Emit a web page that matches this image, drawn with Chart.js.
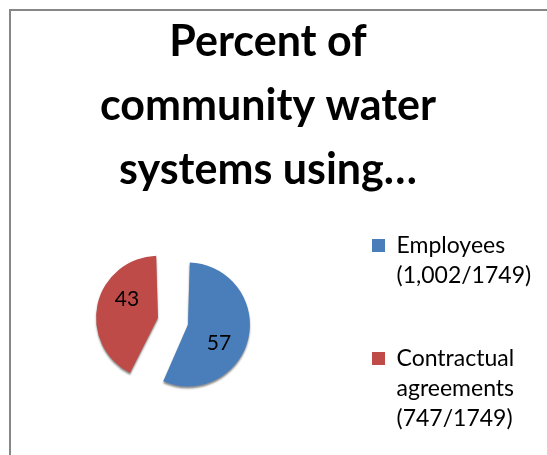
<!DOCTYPE html>
<html>
<head>
<meta charset="utf-8">
<script src="https://cdn.jsdelivr.net/npm/chart.js@4"></script>
<style>
    html, body { margin: 0; padding: 0; background: #fff; }
    #wrap { position: relative; width: 547px; height: 455px; overflow: hidden; }
    #frame {
        position: absolute; left: 9px; top: 9px; width: 600px; height: 600px;
        border-left: 2px solid #878787; border-top: 2px solid #878787;
        pointer-events: none;
    }
</style>
</head>
<body>
<div id="wrap">
    <canvas id="pieChart" width="547" height="455"></canvas>
    <div id="frame"></div>
</div>
<script>
const titleLines = ['Percent of', 'community water', 'systems using…'];
const categories = ['Employees', 'Contractual agreements'];
const legendLines = [
    ['Employees', '(1,002/1749)'],
    ['Contractual', 'agreements', '(747/1749)'],
];
const percents = [57, 43];
const colors = ['#4a7ebb', '#be4b48'];

// a soft shadow for the 3D look, and the value labels inside the slices
const sliceLabels = {
    id: 'sliceLabels',
    beforeDatasetsDraw(chart) {
        const ctx = chart.ctx;
        ctx.save();
        ctx.shadowColor = 'rgba(0,0,0,0.45)';
        ctx.shadowBlur = 2;
        ctx.shadowOffsetY = 2;
    },
    afterDatasetsDraw(chart) {
        const ctx = chart.ctx;
        ctx.restore();
        const meta = chart.getDatasetMeta(0);
        ctx.save();
        ctx.font = '21px Lato';
        ctx.fillStyle = '#000';
        ctx.textAlign = 'center';
        ctx.textBaseline = 'middle';
        meta.data.forEach((arc, i) => {
            const p = arc.getProps(['x', 'y', 'startAngle', 'endAngle']);
            const mid = (p.startAngle + p.endAngle) / 2;
            const shift = arc.options.offset / 4;
            const cx = p.x + Math.cos(mid) * shift;
            const cy = p.y + Math.sin(mid) * shift;
            const a = mid + 18 * Math.PI / 180;
            const r = 36;
            ctx.fillText(percents[i], cx + Math.cos(a) * r, cy + Math.sin(a) * r);
        });
        ctx.restore();
    }
};

var pieChart = document.getElementById('pieChart').getContext('2d');

var newChart = new Chart(pieChart, {
    type: 'pie',
    data: {
        labels: categories,
        datasets: [{
            data: percents,
            backgroundColor: colors,
            borderWidth: 0,
            offset: [45, 78]
        }]
    },
    plugins: [sliceLabels],
    options: {
        responsive: false,
        animation: false,
        radius: 50.7,
        layout: {
            padding: { left: 5, right: 16, top: 10, bottom: 22 }
        },
        plugins: {
            title: {
                display: true,
                text: titleLines,
                color: '#000',
                font: { family: 'Lato', size: 43, weight: 'bold', lineHeight: '64px' },
                padding: { top: 0, bottom: 9 }
            },
            legend: {
                display: true,
                position: 'right',
                align: 'start',
                fullSize: false,
                maxWidth: 182,
                labels: {
                    color: '#000',
                    boxWidth: 13,
                    boxHeight: 13,
                    padding: 23,
                    font: { family: 'Lato', size: 23, lineHeight: '30px' },
                    generateLabels: (chart) => legendLines.map((lines, i) => ({
                        text: i === 0 ? lines.concat(['']) : lines,
                        fillStyle: colors[i],
                        strokeStyle: colors[i],
                        lineWidth: 0,
                        index: i
                    }))
                }
            },
            tooltip: { enabled: false }
        }
    }
});
</script>
</body>
</html>
